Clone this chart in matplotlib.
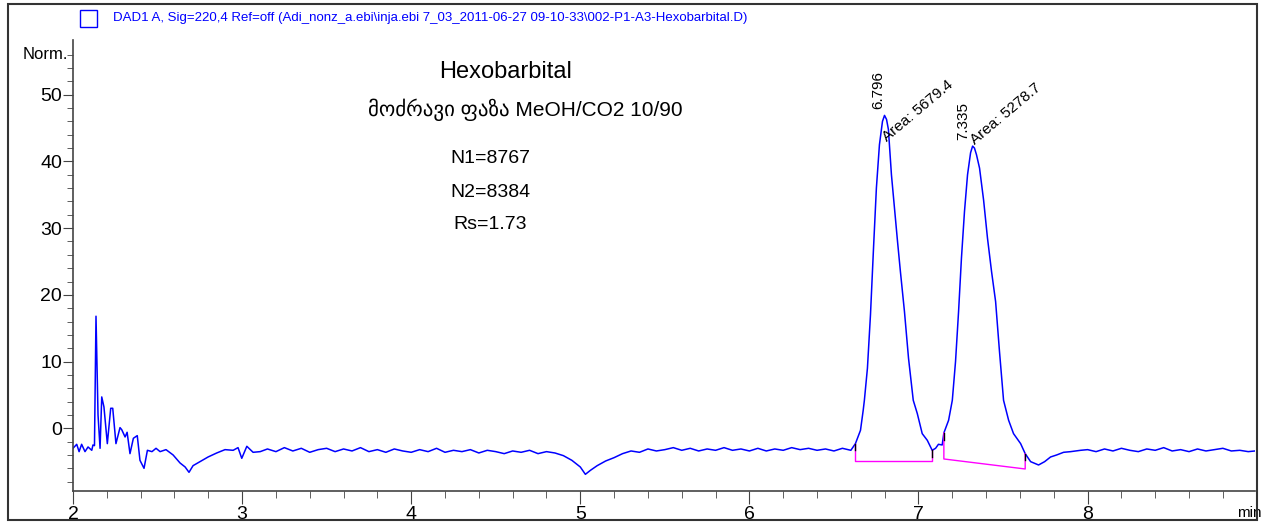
import matplotlib
matplotlib.use("Agg")
import matplotlib.pyplot as plt
from matplotlib.patches import Rectangle
from matplotlib.ticker import FixedLocator, MultipleLocator

NARROW = ["Liberation Sans", "DejaVu Sans"]

# chromatogram trace (retention time in min, signal in Norm.)
time_min = [
    2.000, 2.022, 2.036, 2.051, 2.071, 2.089, 2.111, 2.118, 2.127, 2.136,
    2.148, 2.160, 2.170, 2.183, 2.203, 2.223, 2.235, 2.254, 2.278, 2.288,
    2.308, 2.320, 2.337, 2.357, 2.380, 2.396, 2.420, 2.440, 2.467, 2.491,
    2.515, 2.550, 2.592, 2.633, 2.663, 2.686, 2.710, 2.751, 2.799, 2.850,
    2.899, 2.947, 2.976, 2.998, 3.028, 3.065, 3.107,
    3.15, 3.20, 3.25, 3.30, 3.35, 3.40, 3.45, 3.50, 3.55, 3.60, 3.65, 3.70,
    3.75, 3.80, 3.85, 3.90, 3.95, 4.00, 4.05, 4.10, 4.15, 4.20, 4.25, 4.30,
    4.35, 4.40, 4.45, 4.50, 4.55, 4.60, 4.65, 4.70, 4.75, 4.80, 4.85, 4.90,
    4.95, 5.00, 5.03, 5.06, 5.10, 5.15, 5.20, 5.25, 5.30, 5.35, 5.40, 5.45,
    5.50, 5.55, 5.60, 5.65, 5.70, 5.75, 5.80, 5.85, 5.90, 5.95, 6.00, 6.05,
    6.10, 6.15, 6.20, 6.25, 6.30, 6.35, 6.40, 6.45, 6.50, 6.55, 6.60,
    6.627, 6.657, 6.673, 6.680, 6.698, 6.716, 6.734, 6.751, 6.769, 6.787,
    6.799, 6.811, 6.822, 6.840, 6.858, 6.876, 6.893, 6.917, 6.941, 6.969,
    6.993, 7.022, 7.052, 7.081, 7.101, 7.118, 7.140, 7.150, 7.178, 7.200,
    7.219, 7.237, 7.254, 7.272, 7.290, 7.308, 7.320, 7.331, 7.343, 7.361,
    7.385, 7.408, 7.432, 7.456, 7.479, 7.503, 7.533, 7.562, 7.604, 7.631,
    7.663, 7.710, 7.746, 7.781, 7.817, 7.858, 7.900, 7.959,
    8.00, 8.05, 8.10, 8.15, 8.20, 8.25, 8.30, 8.35, 8.40, 8.45, 8.50, 8.55,
    8.60, 8.65, 8.70, 8.75, 8.80, 8.85, 8.90, 8.95, 8.99,
]
signal = [
    -3.0, -2.4, -3.5, -2.4, -3.5, -2.8, -3.3, -2.5, -2.6, 16.8,
    2.0, -3.0, 4.7, 3.2, -2.3, 3.0, 3.0, -2.3, 0.1, -0.2,
    -1.3, -0.6, -3.8, -1.5, -1.1, -4.8, -6.0, -3.3, -3.5, -3.0,
    -3.5, -3.2, -4.0, -5.2, -5.8, -6.6, -5.6, -5.0, -4.3, -3.7,
    -3.2, -3.3, -2.9, -4.5, -2.7, -3.6, -3.5,
    -3.1, -3.5, -2.9, -3.4, -3.0, -3.6, -3.2, -3.0, -3.5, -3.1, -3.4, -2.9,
    -3.5, -3.2, -3.6, -3.1, -3.4, -3.6, -3.2, -3.5, -3.0, -3.6, -3.3, -3.5,
    -3.2, -3.7, -3.3, -3.5, -3.8, -3.4, -3.6, -3.3, -3.8, -3.5, -3.7, -4.1,
    -4.8, -5.8, -6.9, -6.3, -5.6, -4.9, -4.4, -3.8, -3.4, -3.6, -3.1, -3.4,
    -3.2, -2.9, -3.3, -3.0, -3.4, -3.1, -3.3, -2.9, -3.3, -3.1, -3.4, -3.0,
    -3.4, -3.1, -3.3, -2.9, -3.2, -3.0, -3.3, -3.1, -3.4, -3.0, -3.3,
    -2.3, -0.3, 2.7, 4.2, 9.0, 17.0, 27.0, 36.0, 42.5, 46.0,
    46.9, 46.3, 44.8, 38.0, 33.0, 28.0, 23.5, 17.5, 10.5, 4.2,
    2.2, -0.8, -1.8, -3.3, -3.0, -2.4, -2.5, -0.7, 1.2, 4.2,
    10.0, 17.5, 25.5, 32.5, 38.0, 41.3, 42.3, 42.0, 41.0, 39.0,
    34.2, 28.5, 23.5, 19.0, 11.5, 4.2, 1.2, -0.8, -2.3, -3.8,
    -5.0, -5.5, -5.0, -4.3, -4.0, -3.6, -3.5, -3.3,
    -3.2, -3.5, -3.1, -3.4, -3.0, -3.3, -3.5, -3.1, -3.3, -2.9, -3.4, -3.2,
    -3.5, -3.1, -3.4, -3.2, -3.0, -3.4, -3.3, -3.5, -3.4,
]

# integration baselines: start/end time, trace value and baseline value
base_t0 = [6.627, 7.150]
base_t1 = [7.081, 7.631]
base_s0 = [-2.3, -0.7]
base_s1 = [-3.3, -3.8]
base_b0 = [-4.9, -4.6]
base_b1 = [-4.9, -6.1]

peak_rt = ["6.796", "7.335"]
peak_area = ["Area: 5679.4", "Area: 5278.7"]
peak_rt_pos = [(6.760, 47.8), (7.262, 43.2)]
peak_area_pos = [(6.815, 42.9), (7.337, 42.4)]

info_lines = ["Hexobarbital", "მოძრავი ფაზა MeOH/CO2 10/90",
              "N1=8767", "N2=8384", "Rs=1.73"]
info_pos = [(4.556, 53.4), (4.675, 47.7), (4.467, 40.5), (4.467, 35.4), (4.467, 30.5)]
info_size = [17, 15, 14, 14, 14]

legend_text = ("DAD1 A, Sig=220,4 Ref=off (Adi_nonz_a.ebi\\inja.ebi 7_03_2011-06-27 "
               "09-10-33\\002-P1-A3-Hexobarbital.D)")

fig = plt.figure(figsize=(12.64, 5.24), dpi=100)
fig.patch.set_facecolor("white")
ax = fig.add_axes([73 / 1264, 1 - 491 / 524, (1255 - 73) / 1264, (491 - 40) / 524])

ax.plot(time_min, signal, color="#0000FF", linewidth=1.1)

for t0, t1, s0, s1, b0, b1 in zip(base_t0, base_t1, base_s0, base_s1, base_b0, base_b1):
    ax.plot([t0, t0, t1, t1], [s0, b0, b1, s1], color="#FF00FF", linewidth=1.0)
    ax.plot([t0, t0], [s0, s0 - 1.0], color="black", linewidth=1.0)
    ax.plot([t1, t1], [s1, s1 - 1.0], color="black", linewidth=1.0)

for label, (x, y) in zip(peak_rt, peak_rt_pos):
    ax.text(x, y, label, rotation=90, ha="center", va="bottom",
            fontsize=11, family=NARROW)
for label, (x, y) in zip(peak_area, peak_area_pos):
    ax.text(x, y, label, rotation=40, rotation_mode="anchor", ha="left",
            va="baseline", fontsize=11, family=NARROW)

for line, (x, y), size in zip(info_lines, info_pos, info_size):
    ax.text(x, y, line, ha="center", va="center", fontsize=size, family=NARROW)

ax.set_xlim(2, 8.99)
ax.set_ylim(-9.4, 58.2)
for side in ["top", "right"]:
    ax.spines[side].set_visible(False)
for side in ["left", "bottom"]:
    ax.spines[side].set_color("#444444")
    ax.spines[side].set_linewidth(1.2)

ax.xaxis.set_major_locator(MultipleLocator(1))
ax.xaxis.set_minor_locator(MultipleLocator(0.2))
ax.yaxis.set_major_locator(FixedLocator(list(range(0, 51, 10))))
ax.yaxis.set_minor_locator(FixedLocator(list(range(-8, 57, 2))))
ax.tick_params(axis="both", which="major", direction="out", color="#444444",
               labelsize=14)
ax.tick_params(axis="x", which="major", length=9, pad=2)
ax.tick_params(axis="x", which="minor", length=5, color="#444444")
ax.tick_params(axis="y", which="major", length=7, pad=1)
ax.tick_params(axis="y", which="minor", length=4, color="#444444")
for lab in ax.get_xticklabels() + ax.get_yticklabels():
    lab.set_family(NARROW)

ax.text(-0.004, 56, "Norm.", transform=ax.get_yaxis_transform(), ha="right",
        va="center", fontsize=12, family=NARROW)
ax.text(8.955, -22 / 451, "min", transform=ax.get_xaxis_transform(), ha="center",
        va="center", fontsize=11, family=NARROW)

# legend box and outer frame
fig.add_artist(Rectangle((80 / 1264, 1 - 27 / 524), 17 / 1264, 17 / 524,
                         transform=fig.transFigure, fill=False,
                         edgecolor="#0000FF", linewidth=1.0))
fig.text(113 / 1264, 1 - 18 / 524, legend_text, color="#0000FF", ha="left",
         va="center", fontsize=9.5, family=NARROW)
fig.add_artist(Rectangle((8 / 1264, 4 / 524), 1249 / 1264, 516 / 524,
                         transform=fig.transFigure, fill=False,
                         edgecolor="#333333", linewidth=1.5))

fig.savefig("out.png", dpi=100, facecolor="white")
plt.close(fig)
